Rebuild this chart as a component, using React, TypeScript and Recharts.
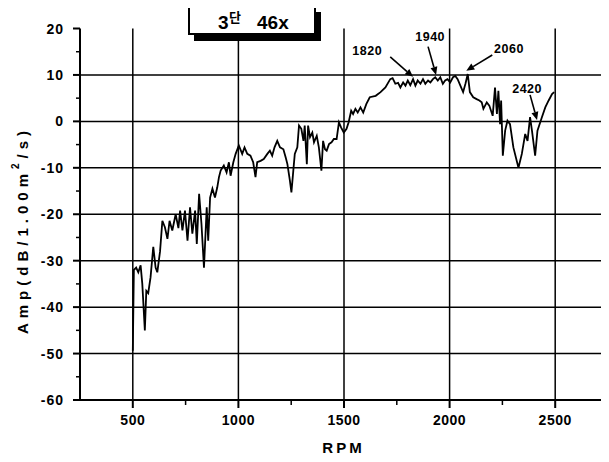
import React from 'react';
import { LineChart, Line, XAxis, YAxis, ReferenceLine, ReferenceDot } from 'recharts';

const rpmValues = [
  500, 505, 516, 526, 537, 545, 557, 564, 573, 584, 597, 608, 616, 629, 640, 652, 664, 674, 687, 703,
  716, 724, 735, 747, 759, 771, 782, 795, 803, 814, 825, 837, 850, 857, 866, 877, 889, 900, 908, 916,
  931, 944, 955, 963, 976, 987, 1002, 1018, 1029, 1042, 1057, 1070, 1081, 1089, 1105, 1120, 1137, 1149,
  1160, 1171, 1184, 1197, 1213, 1224, 1232, 1244, 1251, 1260, 1267, 1279, 1287, 1298, 1308, 1314, 1324,
  1330, 1339, 1350, 1358, 1371, 1381, 1393, 1401, 1410, 1418, 1429, 1441, 1452, 1465, 1476, 1486, 1499,
  1512, 1522, 1534, 1543, 1554, 1565, 1578, 1591, 1606, 1622, 1650, 1673, 1696, 1719, 1730, 1743, 1756,
  1767, 1780, 1791, 1802, 1814, 1827, 1838, 1849, 1862, 1874, 1885, 1898, 1909, 1921, 1932, 1944, 1956,
  1968, 1979, 1990, 2003, 2016, 2027, 2038, 2051, 2064, 2075, 2086, 2096, 2112, 2128, 2141, 2152, 2160,
  2176, 2188, 2204, 2215, 2224, 2231, 2239, 2244, 2252, 2263, 2274, 2286, 2302, 2326, 2342, 2358, 2369,
  2381, 2390, 2405, 2416, 2437, 2453, 2469, 2485, 2495,
];
const ampValues = [
  -49.4, -32, -31.5, -32.5, -31, -35, -45, -36.5, -37, -33.6, -27, -31.5, -32.5, -28, -21.4, -22.8, -25.3, -21.4, -23.5, -20,
  -23, -19.2, -23.5, -19.2, -25.7, -18.5, -24.2, -19.2, -26.4, -15.6, -22, -31.5, -18.5, -25.7, -16.4, -14.5, -16.4, -14.2, -12, -10.6,
  -9.5, -11, -8.8, -11.7, -8.8, -7, -5.2, -7, -5.6, -7, -7.4, -8.8, -12, -8.8, -8.5, -8.1, -7, -6.3,
  -7.4, -5.6, -4.2, -5.6, -6, -7.8, -9.2, -12.8, -15.3, -10.6, -7, -5.6, -0.9, -1.6, -4.2, -0.9, -9.2,
  -0.9, -3.4, -2.4, -4.5, -3.1, -5.6, -10.6, -4.2, -6, -6.3, -4.9, -4.5, -3.8, -3.8, -0.2, -1.3, -2.4,
  -1.6, -0.2, 2.3, 1.6, 2.7, 1.9, 3, 1.9, 3.75, 5.2, 5.5, 6.3, 7.3, 9.1, 9.3, 8.1, 8.3,
  7.3, 8.4, 7.7, 8.8, 7.8, 9.1, 7.7, 8.8, 8.1, 9.1, 8.1, 8.8, 8.4, 9.1, 9.5, 8.8, 9.5,
  8.1, 8.8, 9.1, 8.4, 9.5, 9.8, 9.1, 7.7, 6.3, 8.1, 10.2, 6.3, 5.2, 4.8, 4.5, 4.1, 2.7,
  4.1, 3.4, 1.2, 7.3, 1.6, 6.6, -0.6, 4.5, -7.4, -2, 0.15, -0.6, -5.6, -10, -7, -2.7, -4.2,
  0.9, -2, -7.4, -2, 0.9, 3, 4.5, 5.9, 6.3,
];

const xMajorTicks = [500, 1000, 1500, 2000, 2500];
const xMinorTicks = [750, 1250, 1750, 2250];
const yMajorTicks = [-60, -50, -40, -30, -20, -10, 0, 10, 20];
const yMinorTicks = [-55, -45, -35, -25, -15, -5, 5, 15];
const hGrid = [-50, -40, -30, -20, -10, 0, 10];
const vGrid = [500, 1000, 1500, 2000, 2500];

const annotationLabels = ['1820', '1940', '2060', '2420'];
const labelRpm = [1610, 1908, 2281, 2367];
const labelAmp = [15.2, 18.2, 15.8, 7.0];
const arrowFromRpm = [1719, 1898, 2202, 2381];
const arrowFromAmp = [13.9, 16.1, 14.3, 5.7];
const arrowToRpm = [1827, 1936, 2079, 2414];
const arrowToAmp = [9.6, 10.0, 10.9, 0.3];

const data = rpmValues.map((r, i) => ({ rpm: r, amp: ampValues[i] }));

const FONT = '"Liberation Sans", Arial, Helvetica, sans-serif';

const XTick = (props: any) => {
  const { x, y, payload } = props;
  const major = xMajorTicks.includes(payload.value);
  return (
    <g>
      <line x1={x} x2={x} y1={y} y2={y + (major ? 8 : 5)} stroke="#000" strokeWidth={major ? 2 : 1.5} />
      {major && (
        <text x={x} y={y + 25} textAnchor="middle" fontFamily={FONT} fontWeight="bold" fontSize={14} letterSpacing={0.5} fill="#000">
          {payload.value}
        </text>
      )}
    </g>
  );
};

const YTick = (props: any) => {
  const { x, y, payload } = props;
  const major = yMajorTicks.includes(payload.value);
  return (
    <g>
      <line x1={x - (major ? 7 : 4)} x2={x} y1={y} y2={y} stroke="#000" strokeWidth={major ? 2 : 1.5} />
      {major && (
        <text x={x - 16} y={y} dy="0.36em" textAnchor="end" fontFamily={FONT} fontWeight="bold" fontSize={14} letterSpacing={1} fill="#000">
          {payload.value}
        </text>
      )}
    </g>
  );
};

const ArrowShape = (props: any) => {
  const { x1, y1, x2, y2 } = props;
  if ([x1, y1, x2, y2].some((v) => typeof v !== 'number' || isNaN(v))) return null;
  const dx = x2 - x1;
  const dy = y2 - y1;
  const len = Math.sqrt(dx * dx + dy * dy) || 1;
  const ux = dx / len;
  const uy = dy / len;
  const hl = 8;
  const hw = 3.5;
  const bx = x2 - ux * hl;
  const by = y2 - uy * hl;
  const pts = `${x2},${y2} ${bx - uy * hw},${by + ux * hw} ${bx + uy * hw},${by - ux * hw}`;
  return (
    <g>
      <line x1={x1} y1={y1} x2={bx} y2={by} stroke="#000" strokeWidth={1.6} />
      <polygon points={pts} fill="#000" />
    </g>
  );
};

export default function App() {
  return (
    <div style={{ position: 'relative', width: 609, height: 462, margin: '-8px 0 0 -8px' }}>
      <LineChart width={609} height={462} data={data} margin={{ top: 28.5, right: 1, bottom: 0, left: 0 }}>
        <XAxis
          dataKey="rpm"
          type="number"
          domain={[250, 2750]}
          ticks={[...xMajorTicks, ...xMinorTicks].sort((a, b) => a - b)}
          tick={XTick}
          tickLine={false}
          tickSize={0}
          tickMargin={0}
          axisLine={{ stroke: '#000', strokeWidth: 2 }}
          height={62}
          allowDataOverflow
          interval={0}
        />
        <YAxis
          type="number"
          domain={[-60, 20]}
          ticks={[...yMajorTicks, ...yMinorTicks].sort((a, b) => a - b)}
          tick={YTick}
          tickLine={false}
          tickSize={0}
          tickMargin={0}
          axisLine={{ stroke: '#000', strokeWidth: 2 }}
          width={80}
          allowDataOverflow
          interval={0}
        />
        {hGrid.map((v) => (
          <ReferenceLine key={'h' + v} y={v} stroke="#000" strokeWidth={1.5} />
        ))}
        {vGrid.map((v) => (
          <ReferenceLine key={'v' + v} x={v} stroke="#000" strokeWidth={1.5} />
        ))}
        <Line
          dataKey="amp"
          type="linear"
          stroke="#000"
          strokeWidth={1.8}
          dot={false}
          isAnimationActive={false}
        />
        {annotationLabels.map((_, i) => (
          <ReferenceLine
            key={'a' + i}
            segment={[
              { x: arrowFromRpm[i], y: arrowFromAmp[i] },
              { x: arrowToRpm[i], y: arrowToAmp[i] },
            ]}
            ifOverflow="visible"
            shape={ArrowShape}
          />
        ))}
        {annotationLabels.map((lab, i) => (
          <ReferenceDot
            key={'l' + i}
            x={labelRpm[i]}
            y={labelAmp[i]}
            r={0}
            ifOverflow="visible"
            shape={(p: any) => (
              <text x={p.cx} y={p.cy} dy="0.36em" textAnchor="middle" fontFamily={FONT} fontWeight="bold" fontSize={12.5} letterSpacing={0.5} fill="#000">
                {lab}
              </text>
            )}
          />
        ))}
      </LineChart>
      <svg
        width={609}
        height={462}
        style={{ position: 'absolute', left: 0, top: 0, pointerEvents: 'none' }}
      >
        <rect x={194} y={12} width={127} height={29} fill="#000" />
        <rect x={189} y={7} width={126} height={27} fill="#fff" stroke="#000" strokeWidth={2} />
        <text x={218} y={28.5} fontFamily={FONT} fontWeight="bold" fontSize={19} fill="#000">3</text>
        <text x={229} y={22} fontFamily={'"Noto Sans CJK KR", sans-serif'} fontWeight="bold" fontSize={13} fill="#000">단</text>
        <text x={257} y={28.5} fontFamily={FONT} fontWeight="bold" fontSize={19} fill="#000">46x</text>
        <text
          x={22}
          y={230}
          transform="rotate(-90, 22, 230)"
          textAnchor="middle"
          dominantBaseline="central"
          fontFamily={FONT}
          fontWeight="bold"
          fontSize={15}
          letterSpacing={5}
          fill="#000"
        >
          Amp(dB/1.00m<tspan fontSize={10} dy={-7}>2</tspan><tspan dy={7}>/s)</tspan>
        </text>
        <text x={343.5} y={453} textAnchor="middle" fontFamily={FONT} fontWeight="bold" fontSize={15} letterSpacing={3} fill="#000">
          RPM
        </text>
      </svg>
    </div>
  );
}
